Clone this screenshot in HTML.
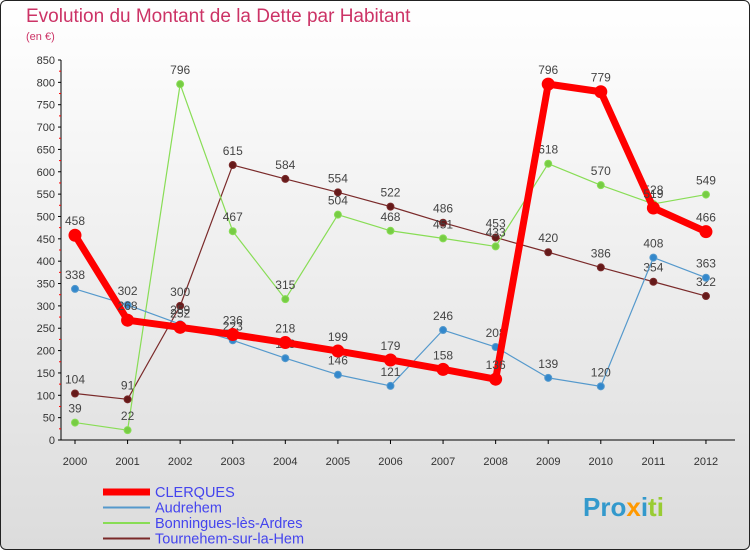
<!DOCTYPE html>
<html><head><meta charset="utf-8"><style>
body{margin:0;width:750px;height:550px;overflow:hidden;font-family:"Liberation Sans",sans-serif}
#wrap{position:absolute;left:0;top:0;width:748px;height:548px;border:1px solid #222;border-radius:6px;background:linear-gradient(#ffffff,#dcdcdc)}
</style></head><body>
<div id="wrap">
<svg id="chart" width="750" height="550" style="position:absolute;left:-1px;top:-1px">
<text x="26" y="22" font-size="19" fill="#cc3366">Evolution du Montant de la Dette par Habitant</text>
<text x="26" y="40" font-size="11" fill="#cc3366">(en €)</text>
<g id="axes"></g><g id="series"></g><g id="legend"></g>
<text x="583" y="516" font-size="26" font-weight="bold" fill="#3399cc">Pro<tspan fill="#ff9900">x</tspan><tspan fill="#3399cc">i</tspan><tspan fill="#99cc33">ti</tspan></text>
</svg></div>
<script>
const years=[2000,2001,2002,2003,2004,2005,2006,2007,2008,2009,2010,2011,2012];
const yTicks=[0,50,100,150,200,250,300,350,400,450,500,550,600,650,700,750,800,850];
const clerques=[458,268,252,236,218,199,179,158,136,796,779,519,466];
const audrehem=[338,302,259,223,183,146,121,246,208,139,120,408,363];
const bonningues=[39,22,796,467,315,504,468,451,433,618,570,528,549];
const tournehem=[104,91,300,615,584,554,522,486,453,420,386,354,322];
const NS="http://www.w3.org/2000/svg";
const X=i=>75+i*52.58, Y=v=>440-v*380/850;
function mk(t,a,p){const e=document.createElementNS(NS,t);for(const k in a)e.setAttribute(k,a[k]);p.appendChild(e);return e;}
const ax=document.getElementById('axes');
const yl=mk('line',{x1:61,y1:60,x2:61,y2:440,stroke:'#000'},ax);


const xl=mk('line',{x1:61,y1:440,x2:735,y2:440,stroke:'#000'},ax);


yTicks.forEach((v,k)=>{mk('line',{x1:58,y1:Y(v),x2:61,y2:Y(v),stroke:'#000'},ax);
 if(k<yTicks.length-1) mk('line',{x1:59,y1:Y(v+25),x2:61,y2:Y(v+25),stroke:'#f00'},ax);
 const t=mk('text',{x:55,y:Y(v)+4,'font-size':11,'text-anchor':'end',fill:'#333'},ax);t.textContent=v;
 
 });
years.forEach((y,i)=>{mk('line',{x1:X(i),y1:440,x2:X(i),y2:444,stroke:'#000'},ax);
 const t=mk('text',{x:X(i),y:465,'font-size':11,'text-anchor':'middle',fill:'#333'},ax);t.textContent=y;
 
 });
const sg=document.getElementById('series');
function draw(vals,color,w,r,dot,name){const g=mk('g',{},sg);
 
 
 mk('polyline',{points:vals.map((v,i)=>X(i)+','+Y(v)).join(' '),fill:'none',stroke:color,'stroke-width':w,'stroke-linejoin':'round'},g);
 vals.forEach((v,i)=>{const c=mk('circle',{cx:X(i),cy:Y(v),r:r,fill:dot,stroke:color,'stroke-width':1},g);
  
  
  const t=mk('text',{x:X(i),y:Y(v)-10,'font-size':12,'text-anchor':'middle',fill:'#444'},g);t.textContent=v;
  
  });}
draw(tournehem,'#7a2a2a',1.2,3.5,'#661a1a','tournehem-series');
draw(bonningues,'#88dd55',1.2,3.5,'#77cc44','bonningues-series');
draw(audrehem,'#5599cc',1.2,3.5,'#3388cc','audrehem-series');
draw(clerques,'#ff0000',7,6,'#ff0000','clerques-series');
const lg=document.getElementById('legend');
const items=[['CLERQUES','#ff0000',7],['Audrehem','#5599cc',2],['Bonningues-lès-Ardres','#88dd55',2],['Tournehem-sur-la-Hem','#7a2a2a',2]];
items.forEach((it,i)=>{const y=492+i*15.5;
 const l=mk('line',{x1:103,y1:y,x2:150,y2:y,stroke:it[1],'stroke-width':it[2]},lg);
 
 
 const t=mk('text',{x:155,y:y+5,'font-size':14.5,fill:'#4444ee'},lg);t.textContent=it[0];
 
 });
</script>
</body></html>
